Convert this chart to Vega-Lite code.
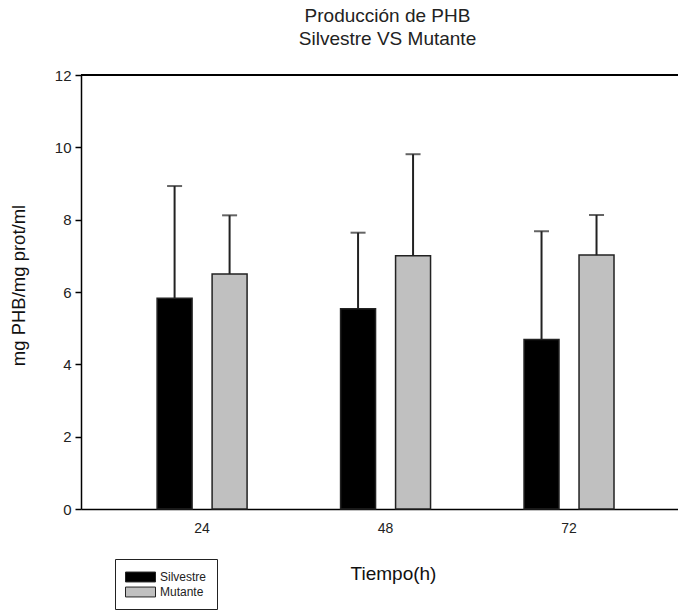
{
  "$schema": "https://vega.github.io/schema/vega-lite/v6.json",
  "autosize": "none",
  "width": 597,
  "height": 434,
  "padding": {"left": 81, "top": 75, "right": 0, "bottom": 104},
  "background": "white",
  "config": {
    "view": {"stroke": null},
    "font": "Liberation Sans",
    "axis": {"grid": false, "domainColor": "black", "tickColor": "black", "labelColor": "#222", "titleColor": "#111", "labelFont": "Liberation Sans", "titleFont": "Liberation Sans", "titleFontWeight": "normal"}
  },
  "title": {
    "text": ["Producción de PHB", "Silvestre VS Mutante"],
    "anchor": "middle",
    "frame": "group",
    "dx": 8,
    "offset": 19,
    "fontSize": 19,
    "fontWeight": "normal",
    "lineHeight": 23,
    "color": "#222",
    "font": "Liberation Sans"
  },
  "data": {
    "values": [
      {"hora": "24", "cepa": "Silvestre", "valor": 5.83, "sup": 8.93},
      {"hora": "24", "cepa": "Mutante", "valor": 6.50, "sup": 8.12},
      {"hora": "48", "cepa": "Silvestre", "valor": 5.54, "sup": 7.64},
      {"hora": "48", "cepa": "Mutante", "valor": 7.00, "sup": 9.81},
      {"hora": "72", "cepa": "Silvestre", "valor": 4.69, "sup": 7.68},
      {"hora": "72", "cepa": "Mutante", "valor": 7.02, "sup": 8.13}
    ]
  },
  "encoding": {
    "x": {
      "field": "hora", "type": "nominal", "sort": ["24", "48", "72"],
      "scale": {"paddingInner": 0, "paddingOuter": 0.127, "align": 0.63},
      "axis": {
        "title": "Tiempo(h)", "labelAngle": 0, "ticks": false, "labelPadding": 12,
        "labelFontSize": 14, "domainWidth": 1.5, "titleFontSize": 19,
        "titleX": 312, "titleY": 70, "titleBaseline": "alphabetic"
      }
    },
    "xOffset": {
      "field": "cepa", "type": "nominal", "sort": ["Silvestre", "Mutante"],
      "scale": {"paddingInner": 0.364, "paddingOuter": 0.85}
    }
  },
  "layer": [
    {
      "mark": {"type": "rule", "color": "black", "strokeWidth": 1.5},
      "encoding": {"y": {"datum": 12, "type": "quantitative"}, "x": null, "xOffset": null}
    },
    {
      "mark": {"type": "bar", "stroke": "#222", "strokeWidth": 1.5},
      "encoding": {
        "y": {
          "field": "valor", "type": "quantitative",
          "scale": {"domain": [0, 12], "nice": false},
          "axis": {
            "title": "mg PHB/mg prot/ml", "values": [0, 2, 4, 6, 8, 10, 12],
            "tickSize": 6, "tickWidth": 1.5, "domainWidth": 1.5, "labelFontSize": 15,
            "labelPadding": 4, "titleFontSize": 18.5, "titleX": -63, "titleY": 210,
            "titleAngle": -90, "titleBaseline": "middle", "titleAlign": "center"
          }
        },
        "fill": {
          "field": "cepa", "type": "nominal", "sort": ["Silvestre", "Mutante"],
          "scale": {"domain": ["Silvestre", "Mutante"], "range": ["#000000", "#c0c0c0"]},
          "legend": {
            "title": null, "orient": "none", "legendX": 34, "legendY": 484,
            "symbolType": "M-1,-0.66H3V0.66H-1Z", "symbolSize": 225,
            "symbolStrokeColor": "#222", "symbolStrokeWidth": 1,
            "labelFontSize": 12, "labelColor": "#222", "labelOffset": 19,
            "rowPadding": 0, "padding": 10, "strokeColor": "#222", "fillColor": "white",
            "cornerRadius": 0
          }
        }
      }
    },
    {
      "mark": {"type": "rule", "color": "#222", "strokeWidth": 2},
      "encoding": {"y": {"field": "valor", "type": "quantitative"}, "y2": {"field": "sup"}}
    },
    {
      "mark": {"type": "tick", "color": "#222", "thickness": 2, "size": 15, "orient": "horizontal"},
      "encoding": {"y": {"field": "sup", "type": "quantitative"}}
    }
  ]
}
